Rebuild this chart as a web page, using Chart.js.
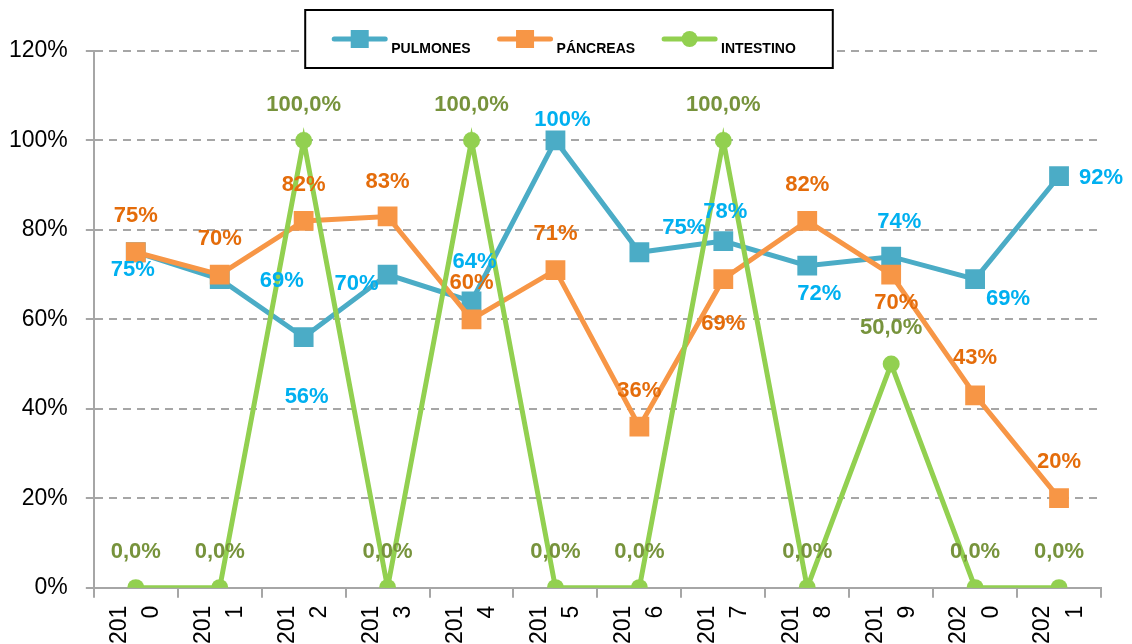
<!DOCTYPE html>
<html>
<head>
<meta charset="utf-8">
<script src="https://cdn.jsdelivr.net/npm/chart.js@4"></script>
<style>
  html, body { margin: 0; padding: 0; background: #fff; }
  #wrap { width: 1132px; height: 644px; position: relative; }
</style>
</head>
<body>
<div id="wrap"><canvas id="lineChart"></canvas></div>
<script>
// data
const years = [['201', '0'], ['201', '1'], ['201', '2'], ['201', '3'], ['201', '4'], ['201', '5'],
               ['201', '6'], ['201', '7'], ['201', '8'], ['201', '9'], ['202', '0'], ['202', '1']];
const pulmones = [75, 69, 56, 70, 64, 100, 75, 77.5, 72, 74, 69, 92];
const pancreas = [75, 70, 82, 83, 60, 71, 36, 69, 82, 70, 43, 20];
const intestino = [0, 0, 100, 0, 100, 0, 0, 100, 0, 50, 0, 0];
const yTicks = [0, 20, 40, 60, 80, 100, 120];

// where each data label sits relative to its point (dx, dy)
const pulmonesLabelPos = [[-3, 18], [62, 2], [3, 60], [-31, 9], [3, -39], [7, -21],
                          [45, -24], [2, -29], [12, 28], [8, -35], [33, 20], [42, 2]];
const pancreasLabelPos = [[0, -36], [0, -36], [0, -36], [0, -35], [0, -36], [0, -36],
                          [0, -36], [0, 45], [0, -36], [5, 28], [0, -37], [0, -36]];
const intestinoLabelPos = intestino.map(function () { return [0, -36]; });

const labelSetup = [
    { pos: pulmonesLabelPos, color: '#00B0F0', fmt: function (v) { return Math.round(v) + '%'; } },
    { pos: pancreasLabelPos, color: '#E46C0A', fmt: function (v) { return Math.round(v) + '%'; } },
    { pos: intestinoLabelPos, color: '#77933C', fmt: function (v) { return v.toFixed(1).replace('.', ',') + '%'; } }
];

const valueLabels = {
    id: 'valueLabels',
    afterDatasetsDraw(chart) {
        const ctx = chart.ctx;
        ctx.save();
        ctx.font = 'bold 22px "Liberation Sans", Arial, sans-serif';
        ctx.textAlign = 'center';
        ctx.textBaseline = 'middle';
        chart.data.datasets.forEach(function (ds, i) {
            const meta = chart.getDatasetMeta(i);
            const setup = labelSetup[i];
            meta.data.forEach(function (pt, j) {
                ctx.fillStyle = setup.color;
                ctx.fillText(setup.fmt(ds.data[j]), pt.x + setup.pos[j][0], pt.y + setup.pos[j][1]);
            });
        });
        ctx.restore();
    }
};

// boxed legend that overlaps the top of the plot, like the original
const boxLegend = {
    id: 'boxLegend',
    afterDraw(chart) {
        const ctx = chart.ctx;
        const items = chart.data.datasets;
        ctx.save();
        ctx.font = 'bold 14px "Liberation Sans", Arial, sans-serif';
        const lineW = 55, gapText = 4, gapItem = 27;
        let total = 0;
        items.forEach(function (ds, i) {
            total += lineW + gapText + ctx.measureText(ds.label).width;
            if (i < items.length - 1) total += gapItem;
        });
        let x = 564 - total / 2;
        ctx.fillStyle = '#fff';
        ctx.fillRect(x - 27, 10, total + 64, 58);
        ctx.strokeStyle = '#000';
        ctx.lineWidth = 2;
        ctx.strokeRect(x - 27, 10, total + 64, 58);
        items.forEach(function (ds) {
            const my = 39;
            ctx.strokeStyle = ds.borderColor;
            ctx.lineWidth = 5;
            ctx.lineCap = 'round';
            ctx.beginPath();
            ctx.moveTo(x + 2, my);
            ctx.lineTo(x + lineW - 2, my);
            ctx.stroke();
            ctx.fillStyle = ds.backgroundColor;
            if (ds.pointStyle === 'circle') {
                ctx.beginPath();
                ctx.arc(x + lineW / 2, my, 8, 0, Math.PI * 2);
                ctx.fill();
            } else {
                ctx.fillRect(x + lineW / 2 - 9, my - 9, 18, 18);
            }
            x += lineW + gapText;
            ctx.fillStyle = '#000';
            ctx.textBaseline = 'middle';
            ctx.textAlign = 'left';
            ctx.fillText(ds.label, x, 49);
            x += ctx.measureText(ds.label).width + gapItem;
        });
        ctx.restore();
    }
};

const ctx = document.getElementById('lineChart').getContext('2d');

new Chart(ctx, {
    type: 'line',
    data: {
        labels: years,
        datasets: [
            {
                label: 'PULMONES',
                data: pulmones,
                borderColor: '#4BACC6',
                backgroundColor: '#4BACC6',
                borderWidth: 5,
                pointStyle: 'rect',
                pointRadius: 14,
                pointBorderWidth: 0,
                tension: 0,
                order: 3
            },
            {
                label: 'PÁNCREAS',
                data: pancreas,
                borderColor: '#F79646',
                backgroundColor: '#F79646',
                borderWidth: 5,
                pointStyle: 'rect',
                pointRadius: 14,
                pointBorderWidth: 0,
                tension: 0,
                order: 2
            },
            {
                label: 'INTESTINO',
                data: intestino,
                borderColor: '#92D050',
                backgroundColor: '#92D050',
                borderWidth: 5,
                pointStyle: 'circle',
                pointRadius: 8.5,
                pointBorderWidth: 0,
                tension: 0,
                order: 1
            }
        ]
    },
    options: {
        responsive: true,
        maintainAspectRatio: false,
        animation: false,
        layout: { padding: { left: 9, right: 31, top: 51, bottom: 0 } },
        scales: {
            x: {
                offset: true,
                afterFit: function (axis) {
                    axis.paddingLeft = 0;
                    axis.paddingRight = 0;
                    axis.height -= axis.options.ticks.padding;
                },
                grid: { offset: true, drawOnChartArea: false, drawTicks: true, tickLength: 10, color: '#A6A6A6', lineWidth: 2 },
                border: { color: '#A6A6A6', width: 2 },
                ticks: {
                    autoSkip: false,
                    maxRotation: 90,
                    minRotation: 90,
                    padding: 8,
                    labelOffset: -16,
                    color: '#000',
                    font: { family: '"Liberation Sans", Arial, sans-serif', size: 23, lineHeight: 1.4 }
                }
            },
            y: {
                min: 0,
                max: 120,
                afterBuildTicks: function (axis) {
                    axis.ticks = yTicks.map(function (v) { return { value: v }; });
                },
                afterFit: function (axis) {
                    axis.width -= axis.options.ticks.padding;
                },
                grid: { color: '#A6A6A6', lineWidth: 2, tickLength: 8 },
                border: { color: '#A6A6A6', width: 2, dash: [8, 6] },
                ticks: {
                    padding: 18,
                    color: '#000',
                    font: { family: '"Liberation Sans", Arial, sans-serif', size: 23 },
                    callback: function (v) { return v + '%'; }
                }
            }
        },
        plugins: {
            legend: { display: false },
            title: { display: false },
            tooltip: { enabled: false }
        }
    },
    plugins: [valueLabels, boxLegend]
});
</script>
</body>
</html>
